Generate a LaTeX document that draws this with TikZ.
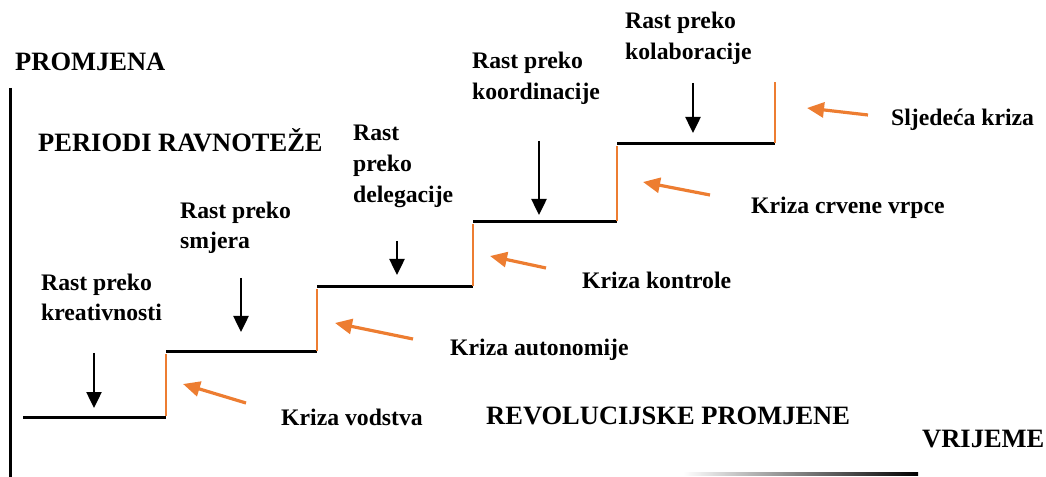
\documentclass[tikz,border=0pt]{standalone}
\usepackage{fontspec}
\setmainfont{Liberation Serif}
\usetikzlibrary{arrows.meta}
\definecolor{crisis}{RGB}{237,125,49}
\begin{document}
\begin{tikzpicture}[x=1bp,y=-1bp,
  lbl/.style={anchor=base west,inner sep=0pt,font=\fontsize{23.7bp}{31bp}\selectfont\bfseries},
  ttl/.style={anchor=base west,inner sep=0pt,font=\fontsize{26.5bp}{31bp}\selectfont\bfseries},
  stepline/.style={line width=3bp,black},
  riser/.style={line width=2.5bp,crisis},
  axisline/.style={line width=3bp,black},
  down/.style={line width=2.5bp,black,-{Triangle[length=16bp,width=15bp]}},
  crisisarrow/.style={line width=3.2bp,crisis,-{Triangle[length=17bp,width=15bp]}}]
\useasboundingbox (0,0) rectangle (1046,477);

% axis
\coordinate (axtop) at (10,88);
\coordinate (axbot) at (10,477);
\draw[axisline] (axtop) -- (axbot);
\coordinate (blL) at (683,474);
\coordinate (blR) at (918,474);
\shade[left color=white, right color=black] (683,472.8) rectangle (918,475.5);

% step corners
\coordinate (p0) at (23,417);
\coordinate (p1) at (166,417);
\coordinate (q1) at (166,352);
\coordinate (p2) at (317,352);
\coordinate (q2) at (317,287);
\coordinate (p3) at (473,287);
\coordinate (q3) at (473,222);
\coordinate (p4) at (617,222);
\coordinate (q4) at (617,144);
\coordinate (p5) at (775,144);
\coordinate (q5) at (775,82);

\draw[stepline] (p0) -- (p1);
\draw[stepline] (q1) -- (p2);
\draw[stepline] (q2) -- (p3);
\draw[stepline] (q3) -- (p4);
\draw[stepline] (q4) -- (p5);
\draw[riser] ([yshift=1bp]p1) -- ([yshift=-2bp]q1);
\draw[riser] ([yshift=1bp]p2) -- ([yshift=-2bp]q2);
\draw[riser] ([yshift=1bp]p3) -- ([yshift=-2bp]q3);
\draw[riser] ([yshift=1bp]p4) -- ([yshift=-2bp]q4);
\draw[riser] ([yshift=1bp]p5) -- (q5);

% titles
\node[ttl] (promjena) at (15,71) {PROMJENA};
\node[ttl] (periodi) at (38,152) {PERIODI RAVNOTEŽE};
\node[ttl] (revol) at (486,424) {REVOLUCIJSKE PROMJENE};
\node[ttl] (vrijeme) at (922,447) {VRIJEME};

% growth labels
\node[lbl] (r1a) at (41,291) {Rast preko};
\node[lbl] (r1b) at (41,321) {kreativnosti};
\node[lbl] (r2a) at (180,219) {Rast preko};
\node[lbl] (r2b) at (180,249) {smjera};
\node[lbl] (r3a) at (353,141) {Rast};
\node[lbl] (r3b) at (353,172) {preko};
\node[lbl] (r3c) at (353,203) {delegacije};
\node[lbl] (r4a) at (472,69) {Rast preko};
\node[lbl] (r4b) at (472,100) {koordinacije};
\node[lbl] (r5a) at (625,29) {Rast preko};
\node[lbl] (r5b) at (625,60) {kolaboracije};

% crisis labels
\node[lbl] (k1) at (281,425) {Kriza vodstva};
\node[lbl] (k2) at (450,356) {Kriza autonomije};
\node[lbl] (k3) at (582,289) {Kriza kontrole};
\node[lbl] (k4) at (751,214) {Kriza crvene vrpce};
\node[lbl] (k5) at (891,126) {Sljedeća kriza};

% growth arrows
\coordinate (d1s) at (94,353);  \coordinate (d1e) at (94,408);
\coordinate (d2s) at (241,278); \coordinate (d2e) at (241,332);
\coordinate (d3s) at (397,241); \coordinate (d3e) at (397,275);
\coordinate (d4s) at (539,141); \coordinate (d4e) at (539,215);
\coordinate (d5s) at (693,83);  \coordinate (d5e) at (693,133);
\draw[down] (d1s) -- (d1e);
\draw[down] (d2s) -- (d2e);
\draw[down] (d3s) -- (d3e);
\draw[down] (d4s) -- (d4e);
\draw[down] (d5s) -- (d5e);

% crisis arrows
\coordinate (c1s) at (246,403); \coordinate (c1e) at (183,384);
\coordinate (c2s) at (413,339); \coordinate (c2e) at (335,323);
\coordinate (c3s) at (546,268); \coordinate (c3e) at (490,256);
\coordinate (c4s) at (710,195); \coordinate (c4e) at (643,182);
\coordinate (c5s) at (868,115); \coordinate (c5e) at (807,108);
\draw[crisisarrow] (c1s) -- (c1e);
\draw[crisisarrow] (c2s) -- (c2e);
\draw[crisisarrow] (c3s) -- (c3e);
\draw[crisisarrow] (c4s) -- (c4e);
\draw[crisisarrow] (c5s) -- (c5e);
\end{tikzpicture}
\end{document}
